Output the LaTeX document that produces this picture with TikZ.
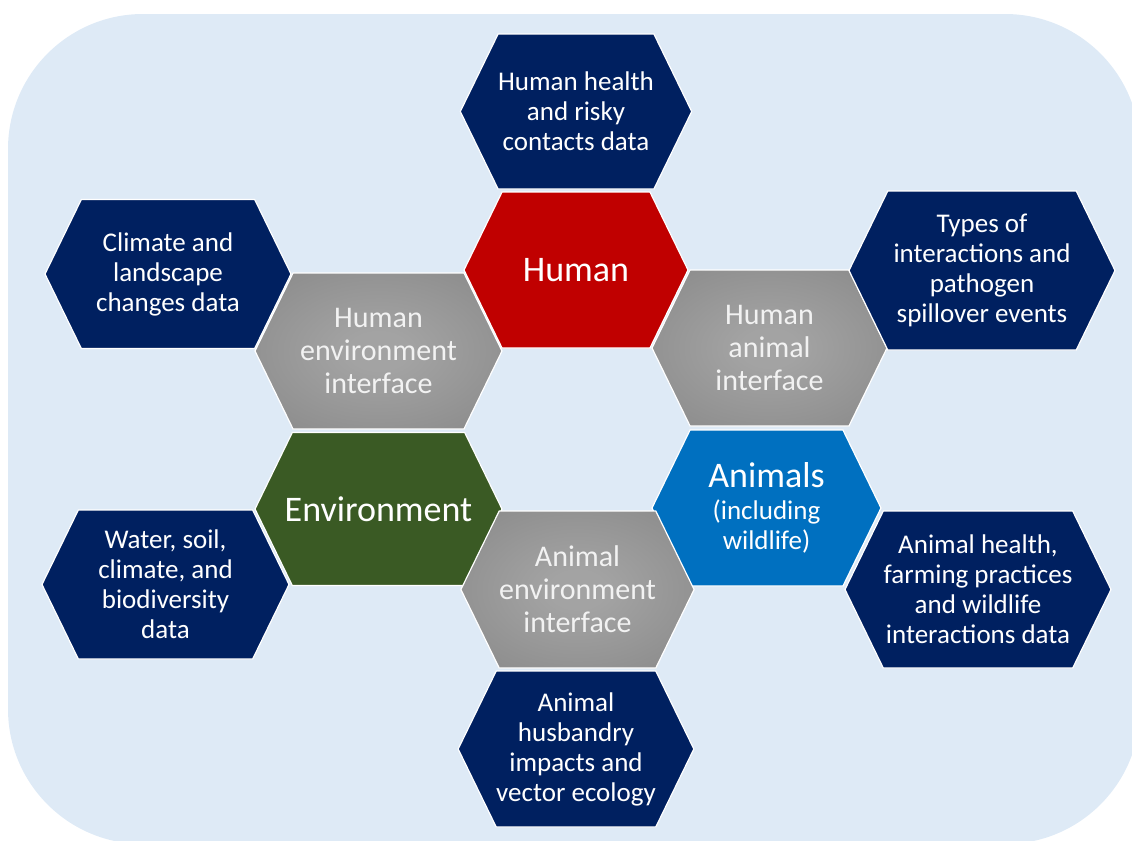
\documentclass[tikz,border=0pt]{standalone}
\usepackage{fontspec}
\setmainfont{Carlito}
\usetikzlibrary{shapes.symbols}
\definecolor{panelblue}{HTML}{DEEAF6}
\definecolor{datanavy}{HTML}{002060}
\definecolor{humanred}{HTML}{C00000}
\definecolor{envgreen}{HTML}{3A5A24}
\definecolor{animalblue}{HTML}{0070C0}
\definecolor{ifacelight}{HTML}{A3A3A3}
\definecolor{ifacedark}{HTML}{7D7D7D}
\pgfdeclareradialshading{ifaceglow}{\pgfpoint{0bp}{0bp}}{color(0bp)=(ifacelight);
  color(6bp)=(ifacelight); color(50bp)=(ifacedark); color(75bp)=(ifacedark)}

\begin{document}
\begin{tikzpicture}[x=0.75pt, y=-0.75pt,
    hexa/.style={shape=signal, signal to=west and east, signal pointer angle=128,
                 inner sep=0pt, draw=white, line width=0.9pt, text=white,
                 align=center, font=\fontsize{20.25pt}{22.5pt}\selectfont},
    datahex/.style={hexa, fill=datanavy},
    corehex/.style={hexa, font=\fontsize{27pt}{30pt}\selectfont},
    ifacehex/.style={hexa, shade, shading=ifaceglow, text=white!95!black,
                     font=\fontsize{22.5pt}{24.75pt}\selectfont},
]
\useasboundingbox (0,0) rectangle (1132,840);
\fill[panelblue, rounded corners=101.25pt] (8,14) rectangle (1140,844);

% core domains
\node[corehex, fill=humanred, minimum width=168pt, minimum height=117pt]
    (human) at (576,270) {Human};
\node[corehex, fill=envgreen, minimum width=185.25pt, minimum height=114.75pt]
    (env) at (378.5,509) {\makebox[0pt]{Environment}};
\node[hexa, fill=animalblue, minimum width=171.75pt, minimum height=117pt]
    (animals) at (766.5,508)
    {{\fontsize{27pt}{30pt}\selectfont Animals}\\[1.5pt](including\\wildlife)};

% interfaces
\node[ifacehex, minimum width=185.25pt, minimum height=117pt]
    (humenv) at (378.5,351) {Human\\environment\\interface};
\node[ifacehex, minimum width=176.25pt, minimum height=117pt]
    (humani) at (769.5,348) {Human\\animal\\interface};
\node[ifacehex, minimum width=170.25pt, minimum height=117.75pt]
    (anienv) at (577.5,589.5) {Animal\\environment\\interface};

% data sources
\node[datahex, minimum width=168pt, minimum height=116.25pt]
    (hhealth) at (576,111.5) {Human health\\and risky\\contacts data};
\node[datahex, minimum width=184.5pt, minimum height=111.75pt]
    (climate) at (168,274) {Climate and\\landscape\\changes data};
\node[datahex, minimum width=199.5pt, minimum height=119.25pt]
    (types) at (982,270.5) {Types of\\interactions and\\pathogen\\spillover events};
\node[datahex, minimum width=185.25pt, minimum height=111.75pt]
    (water) at (165.5,584.5) {Water, soil,\\climate, and\\biodiversity\\data};
\node[datahex, minimum width=199.5pt, minimum height=117.75pt]
    (ahealth) at (978,589.5)
    {Animal health,\\farming practices\\and wildlife\\interactions data};
\node[datahex, minimum width=172.5pt, minimum height=117pt]
    (husb) at (576,749) {Animal\\husbandry\\impacts and\\vector ecology};
\end{tikzpicture}
\end{document}
